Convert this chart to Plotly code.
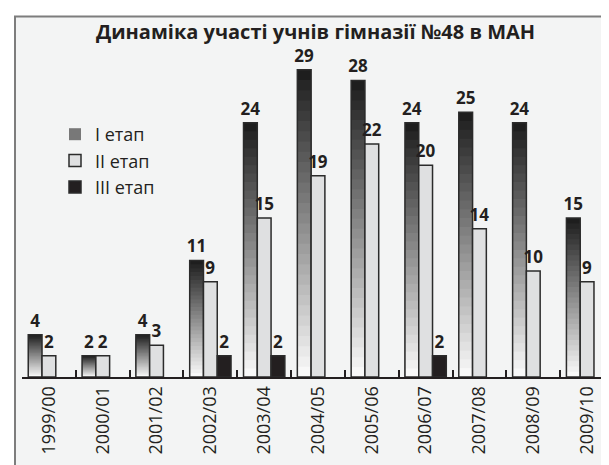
import plotly.graph_objects as go

years = ["1999/00", "2000/01", "2001/02", "2002/03", "2003/04", "2004/05",
         "2005/06", "2006/07", "2007/08", "2008/09", "2009/10"]
stage1 = [4, 2, 4, 11, 24, 29, 28, 24, 25, 24, 15]
stage2 = [2, 2, 3, 9, 15, 19, 22, 20, 14, 10, 9]
stage3 = [None, None, None, 2, 2, None, None, 2, None, None, None]
names = ["I етап", "II етап", "III етап"]
title = "Динаміка участі учнів гімназії №48 в МАН"

W = 609
H = 465
ml, mr, mt, mb = 14, 3, 30, 96
pw = W - ml - mr
ph = H - mt - mb

def px_x(p):
    return (p - ml) / pw

def px_y(p):
    return (H - mb - p) / ph

bw = 0.256
off1, off2, off3 = -0.384, -0.128, 0.128
dark_txt = "#231f20"
edge = "#2b2b2b"
fnt = "Open Sans"
lbl_font = dict(family=fnt, size=17, color=dark_txt, weight="bold")

fig = go.Figure()

# Gradient for stage I: stacked overlay steps (dark at top, light at bottom)
N = 30
top_c = (30, 30, 30)
bot_c = (248, 248, 248)
for k in range(N):
    t = k / (N - 1)
    c = tuple(round(top_c[i] + (bot_c[i] - top_c[i]) * t) for i in range(3))
    col = "rgb(%d,%d,%d)" % c
    fig.add_trace(go.Bar(
        x=years, y=[v * (N - k) / N for v in stage1],
        width=bw, offset=off1,
        marker=dict(color=col, line=dict(width=0)),
        name=names[0], legendgroup="s1",
        showlegend=(k == 12), hoverinfo="skip",
    ))
# outline + labels for stage I
fig.add_trace(go.Bar(
    x=years, y=stage1, width=bw, offset=off1,
    marker=dict(color="rgba(0,0,0,0)", line=dict(color=edge, width=1.5)),
    text=stage1, textposition="outside", texttemplate="%{text}",
    textfont=lbl_font, constraintext="none",
    name=names[0], legendgroup="s1", showlegend=False, cliponaxis=False,
))
fig.add_trace(go.Bar(
    x=years, y=stage2, width=bw, offset=off2,
    marker=dict(color="#dfe0e1", line=dict(color=edge, width=1.5)),
    text=stage2, textposition="outside", texttemplate="%{text}",
    textfont=lbl_font, constraintext="none",
    name=names[1], cliponaxis=False,
))
fig.add_trace(go.Bar(
    x=years, y=stage3, width=bw, offset=off3,
    marker=dict(color="#231f20", line=dict(color=edge, width=1.5)),
    text=[v if v is not None else "" for v in stage3], textposition="outside",
    texttemplate="%{text}",
    textfont=lbl_font, constraintext="none",
    name=names[2], cliponaxis=False,
))

fig.update_layout(
    width=W, height=H,
    margin=dict(l=ml, r=mr, t=mt, b=mb, autoexpand=False),
    barmode="overlay",
    paper_bgcolor="white",
    plot_bgcolor="rgba(0,0,0,0)",
    title=dict(text=title, x=px_x(307.5), xref="paper", xanchor="center",
               y=1 - 24 / H, yref="container", yanchor="middle",
               font=dict(family=fnt, size=20, color=dark_txt, weight="bold")),
    legend=dict(x=px_x(47), y=px_y(108), xanchor="left", yanchor="top",
                font=dict(family=fnt, size=18, color=dark_txt),
                bgcolor="rgba(0,0,0,0)", traceorder="normal"),
    xaxis=dict(type="category", categoryorder="array", categoryarray=years,
               showline=True, linecolor=dark_txt, linewidth=2,
               ticks="inside", tickson="boundaries", ticklen=7, tickwidth=2,
               tickcolor=dark_txt, tickangle=-90,
               tickfont=dict(family=fnt, size=18, color=dark_txt),
               showgrid=False, zeroline=False),
    yaxis=dict(range=[0, 32], visible=False, showgrid=False),
    shapes=[dict(type="rect", xref="paper", yref="paper", layer="below",
                 x0=px_x(7), x1=px_x(640), y0=px_y(500), y1=px_y(8.5),
                 fillcolor="#f3f4f4", line=dict(color="#7d7d7d", width=2))],
)

fig.write_html("out.html")
